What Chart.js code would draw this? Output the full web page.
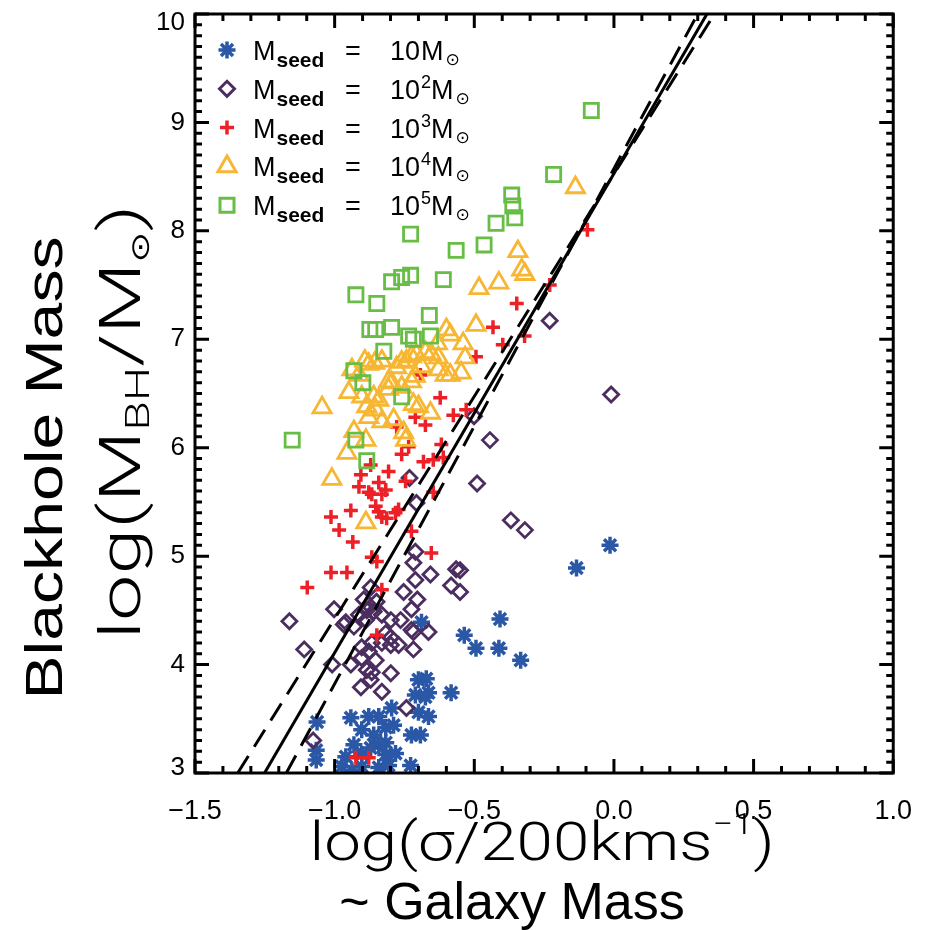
<!DOCTYPE html>
<html><head><meta charset="utf-8">
<script src="https://cdn.jsdelivr.net/npm/chart.js@4"></script>
<style>html,body{margin:0;padding:0;background:#fff}#wrap{width:934px;height:930px}</style>
</head><body><div id="wrap"><canvas id="c" width="934" height="930"></canvas></div>
<script>
// ---- data ----
const seed1X=[-0.014,-0.134,-0.408,-0.536,-0.494,-0.412,-0.334,-0.689,-0.583,-0.700,-0.672,-0.711,-0.664,-0.664,-0.700,-0.725,-1.063,-0.942,-0.878,-0.842,-0.796,-0.903,-0.860,-0.817,-0.817,-1.066,-1.066,-0.960,-0.903,-0.817,-0.782,-0.974,-0.903,-0.842,-0.807,-0.728,-0.693,-0.675,-0.938,-0.842,-0.789,-0.931,-0.871];
const seed1Y=[5.10,4.89,4.42,4.27,4.15,4.15,4.04,4.39,3.74,3.86,3.87,3.72,3.74,3.52,3.56,3.35,3.47,3.51,3.52,3.52,3.60,3.40,3.35,3.42,3.28,3.21,3.12,3.15,3.17,3.17,3.18,3.06,3.06,3.05,3.07,3.07,3.35,3.70,3.02,3.26,3.44,3.26,3.23];
const seed2X=[-0.010,-0.230,-0.501,-0.444,-0.490,-0.369,-0.319,-0.551,-0.583,-0.551,-0.732,-0.707,-0.711,-0.718,-0.657,-0.711,-0.753,-0.704,-0.725,-1.002,-1.162,-0.967,-0.871,-0.896,-0.913,-0.931,-0.888,-0.831,-0.799,-0.764,-0.817,-0.799,-0.831,-0.718,-0.664,-0.771,-0.718,-0.903,-0.867,-0.878,-1.009,-0.942,-0.903,-0.853,-0.885,-0.867,-0.799,-1.109,-0.799,-0.871,-0.906,-0.831,-0.743,-1.077,-0.960,-0.565,-0.878,-0.860,-0.885,-0.850,-0.725];
const seed2Y=[6.49,7.17,6.29,6.07,5.67,5.33,5.24,4.87,4.73,4.67,5.72,5.49,5.04,4.94,4.83,4.78,4.67,4.60,4.51,4.51,4.40,4.37,4.71,4.60,4.46,4.35,4.41,4.46,4.41,4.41,4.29,4.25,4.20,4.30,4.30,4.18,4.14,4.16,4.20,4.12,4.00,4.00,4.06,4.04,3.95,3.93,3.92,4.14,4.18,3.86,3.79,3.75,3.60,3.30,4.39,4.88,4.55,4.49,4.50,4.58,4.32];
const seed3X=[-0.095,-0.230,-0.348,-0.433,-0.320,-0.398,-0.494,-0.693,-0.622,-0.575,-0.529,-0.711,-0.675,-0.778,-0.735,-0.760,-0.618,-0.611,-0.647,-0.682,-0.871,-0.906,-0.807,-0.842,-0.913,-0.878,-0.817,-0.746,-0.647,-0.831,-0.867,-0.853,-0.842,-0.831,-0.782,-0.814,-0.771,-1.013,-0.942,-0.984,-0.935,-0.725,-0.867,-0.849,-0.654,-1.013,-0.956,-1.098,-0.831,-0.849,-0.924,-0.878];
const seed3Y=[8.01,7.50,7.33,7.11,7.03,6.95,6.84,6.67,6.46,6.30,6.35,6.28,6.21,6.19,6.01,5.94,6.03,5.91,5.89,5.87,5.84,5.75,5.78,5.68,5.64,5.59,5.61,5.69,5.59,5.57,5.57,5.46,5.41,5.36,5.40,5.35,5.43,5.36,5.42,5.24,5.13,5.23,4.99,4.95,5.03,4.85,4.85,4.71,4.69,4.27,3.14,3.14];
const seed4X=[-0.138,-0.344,-0.330,-0.319,-0.412,-0.483,-0.494,-0.600,-0.586,-0.540,-0.533,-0.632,-0.675,-0.707,-0.654,-0.743,-0.892,-0.831,-0.856,-0.778,-0.689,-0.629,-0.586,-0.547,-0.807,-0.725,-0.949,-0.903,-0.860,-0.842,-0.807,-0.718,-0.700,-0.657,-0.885,-0.853,-0.878,-0.831,-0.789,-1.045,-0.931,-0.888,-0.753,-0.956,-1.010,-0.888,-0.746,-0.938,-0.913,-0.878,-0.760,-0.725,-0.629,-0.711,-0.604,-0.796,-0.760];
const seed4Y=[8.40,7.81,7.64,7.60,7.52,7.47,7.13,7.09,7.04,6.96,6.83,6.96,6.88,6.86,6.86,6.80,6.80,6.80,6.78,6.74,6.75,6.72,6.67,6.69,6.61,6.61,6.51,6.47,6.47,6.44,6.54,6.40,6.38,6.32,6.38,6.35,6.28,6.24,6.26,6.37,6.15,6.07,6.14,5.95,5.71,5.31,6.07,6.72,6.67,6.77,6.79,6.84,6.83,6.66,6.67,6.60,6.56];
const seed5X=[-0.081,-0.216,-0.366,-0.362,-0.355,-0.422,-0.565,-0.465,-0.611,-0.728,-0.796,-0.760,-0.728,-0.924,-0.849,-0.661,-0.874,-0.853,-0.796,-0.735,-0.718,-0.657,-0.824,-0.931,-0.899,-0.760,-1.152,-0.924,-0.885];
const seed5Y=[9.11,8.52,8.33,8.23,8.12,8.07,7.82,7.87,7.55,7.97,7.53,7.57,7.59,7.41,7.33,7.22,7.09,7.09,7.11,7.03,7.00,7.03,6.89,6.71,6.60,6.47,6.07,6.07,5.88];
// M-sigma relation lines (end points)
const fitX=[-1.251,0.333], fitY=[3,10];
const lowX=[-1.347,0.360], lowY=[3,10];
const highX=[-1.173,0.300], highY=[3,10];
const xTicks=[-1.5,-1.0,-0.5,0.0,0.5,1.0];
const yTicks=[3,4,5,6,7,8,9,10];
const legendSup=['','2','3','4','5'];

const COLORS=['#2A57A6','#4B2D5F','#ED2027','#F7B633','#67BD45'];
const zip=(a,b)=>a.map((v,i)=>({x:v,y:b[i]}));
const SANS='"Liberation Sans", Arial, Helvetica, sans-serif';
const LIGHT='Roboto, "Liberation Sans", sans-serif';

function ptDS(label,xs,ys,color,style,r,bw,order){
  return {type:'scatter',label,data:zip(xs,ys),pointStyle:style,pointRadius:r,pointHoverRadius:r,
    borderColor:color,backgroundColor:'rgba(0,0,0,0)',pointBorderWidth:bw,borderWidth:bw,order,clip:0};
}
function lineDS(xs,ys,dash){
  return {type:'line',data:zip(xs,ys),borderColor:'#000',borderWidth:3,borderDash:dash,pointRadius:0,
    showLine:true,fill:false,order:0,clip:0,tension:0};
}

function rich(ctx,segs,cx,by,targetW){
  let w=0;
  segs.forEach(s=>{ctx.font=s[1];s.w=ctx.measureText(s[0]).width;w+=s.w;});
  const sx=targetW?targetW/w:1;
  ctx.save();ctx.translate(cx,by);ctx.scale(sx,1);
  let x=-w/2;ctx.textBaseline='alphabetic';ctx.textAlign='left';ctx.fillStyle='#000';
  segs.forEach(s=>{ctx.font=s[1];ctx.fillText(s[0],x,s[2]||0);x+=s.w;});
  ctx.restore();
}
function richLeft(ctx,segs,x0,by){
  let x=x0;ctx.textBaseline='alphabetic';ctx.textAlign='left';ctx.fillStyle='#000';
  segs.forEach(s=>{ctx.font=s[1];ctx.fillText(s[0],x,by+(s[2]||0));x+=ctx.measureText(s[0]).width+(s[3]||0);});
}
function marker(ctx,style,x,y,color){
  ctx.save();ctx.strokeStyle=color;ctx.lineWidth=3;ctx.beginPath();
  if(style==='star'){const r=8.5,d=r*Math.SQRT1_2;ctx.lineWidth=3.5;
    ctx.moveTo(x,y-r);ctx.lineTo(x,y+r);ctx.moveTo(x-r,y);ctx.lineTo(x+r,y);
    ctx.moveTo(x-d,y-d);ctx.lineTo(x+d,y+d);ctx.moveTo(x-d,y+d);ctx.lineTo(x+d,y-d);}
  else if(style==='rectRot'){const r=7.5;ctx.moveTo(x-r,y);ctx.lineTo(x,y-r);ctx.lineTo(x+r,y);ctx.lineTo(x,y+r);ctx.closePath();}
  else if(style==='cross'){const r=7;ctx.lineWidth=3.5;ctx.moveTo(x,y-r);ctx.lineTo(x,y+r);ctx.moveTo(x-r,y);ctx.lineTo(x+r,y);}
  else if(style==='triangle'){const r=10.5;ctx.moveTo(x,y-r);ctx.lineTo(x+r*0.866,y+r/2);ctx.lineTo(x-r*0.866,y+r/2);ctx.closePath();}
  else {const h=7;ctx.rect(x-h,y-h,2*h,2*h);}
  ctx.stroke();ctx.restore();
}

const styles=['star','rectRot','cross','triangle','rect'];

const framePlugin={id:'frame',
  afterDatasetsDraw(chart){
    const {ctx,chartArea:a,scales:{x,y}}=chart;
    ctx.save();ctx.strokeStyle='#000';ctx.lineWidth=3;ctx.lineCap='butt';
    ctx.strokeRect(a.left,a.top,a.right-a.left,a.bottom-a.top);
    ctx.beginPath();
    for(let i=0;i<=25;i++){const v=-1.5+i*0.1;const px=x.getPixelForValue(v);const L=(i%5===0)?14:7;
      ctx.moveTo(px,a.bottom);ctx.lineTo(px,a.bottom-L);ctx.moveTo(px,a.top);ctx.lineTo(px,a.top+L);}
    for(let i=0;i<=70;i++){const v=3+i*0.1;const py=y.getPixelForValue(v);const L=(i%10===0)?14:7;
      ctx.moveTo(a.left,py);ctx.lineTo(a.left+L,py);ctx.moveTo(a.right,py);ctx.lineTo(a.right-L,py);}
    ctx.stroke();
    // y tick labels, placed through the y scale (IDL keeps end labels inside the axis range)
    ctx.fillStyle='#000';ctx.font='26px '+SANS;ctx.textAlign='right';ctx.textBaseline='middle';
    yTicks.forEach((v,i)=>{let py=y.getPixelForValue(v);
      if(i===yTicks.length-1) py+=9; if(i===0) py-=5;
      ctx.fillText(String(v),a.left-10,py);});
    ctx.restore();
  },
  afterDraw(chart){
    const ctx=chart.ctx;
    // legend
    for(let i=0;i<5;i++){
      const cy=50+i*38.8;
      marker(ctx,styles[i],227,cy,COLORS[i]);
      const by=cy+10;
      richLeft(ctx,[['M','27px '+SANS,0,1],['seed','bold 21px '+SANS,7]],253,by);
      richLeft(ctx,[['=','27px '+SANS]],345,by);
      const segs=[['10','27px '+SANS,0,1]];
      if(legendSup[i]) segs.push([legendSup[i],'18px '+SANS,-11]);
      segs.push(['M','27px '+SANS,0,2]);
      segs.push(['\u2299','17px "DejaVu Sans", sans-serif',5]);
      richLeft(ctx,segs,390,by);
    }
    // x titles
    rich(ctx,[['log(\u03C3/200kms','300 54px '+LIGHT],['\u2212','300 30px '+LIGHT,-26],['1','300 30px '+LIGHT,-26],[')','300 54px '+LIGHT]],542,860,465);
    rich(ctx,[['~ Galaxy Mass','52px '+SANS]],512,919,0);
    // y titles
    ctx.save();ctx.translate(62,468);ctx.rotate(-Math.PI/2);
    rich(ctx,[['Blackhole Mass','52px '+SANS]],0,0,463);
    ctx.restore();
    ctx.save();ctx.translate(140,422);ctx.rotate(-Math.PI/2);
    rich(ctx,[['log(M','300 58px '+LIGHT],['BH','300 34px '+LIGHT,9],['/M','300 58px '+LIGHT],['\u2299','26px "DejaVu Sans", sans-serif',9],[')','300 58px '+LIGHT]],0,0,435);
    ctx.restore();
  }
};

new Chart(document.getElementById('c'),{
  data:{datasets:[
    lineDS(fitX,fitY,[]),
    lineDS(lowX,lowY,[20,11]),
    lineDS(highX,highY,[20,11]),
    ptDS('M_seed = 10^5 Msun',seed5X,seed5Y,COLORS[4],'rect',10,2.8,1),
    ptDS('M_seed = 10^4 Msun',seed4X,seed4Y,COLORS[3],'triangle',10.5,2.8,2),
    ptDS('M_seed = 10^3 Msun',seed3X,seed3Y,COLORS[2],'cross',7,3.5,3),
    ptDS('M_seed = 10^2 Msun',seed2X,seed2Y,COLORS[1],'rectRot',7.5,2.8,4),
    ptDS('M_seed = 10 Msun',seed1X,seed1Y,COLORS[0],'star',8.5,3.5,5)
  ]},
  options:{
    responsive:false,animation:false,devicePixelRatio:1,
    layout:{padding:{left:0,right:36,top:14,bottom:0}},
    plugins:{legend:{display:false},tooltip:{enabled:false}},
    scales:{
      x:{type:'linear',min:-1.5,max:1.0,
        afterBuildTicks(s){s.ticks=xTicks.map(v=>({value:v}));},
        afterFit(s){s.height=157;},
        grid:{display:false,drawTicks:false},border:{display:false},
        ticks:{color:'#000',padding:22,maxRotation:0,autoSkip:false,font:{family:'"Liberation Sans", Arial, sans-serif',size:27},
          callback:v=>(v<0?'\u2212':'')+Math.abs(v).toFixed(1)}},
      y:{type:'linear',min:3,max:10,
        afterBuildTicks(s){s.ticks=yTicks.map(v=>({value:v}));},
        afterFit(s){s.width=195;},
        grid:{display:false,drawTicks:false},border:{display:false},
        ticks:{display:false}}
    }
  },
  plugins:[framePlugin]
});
</script></body></html>
